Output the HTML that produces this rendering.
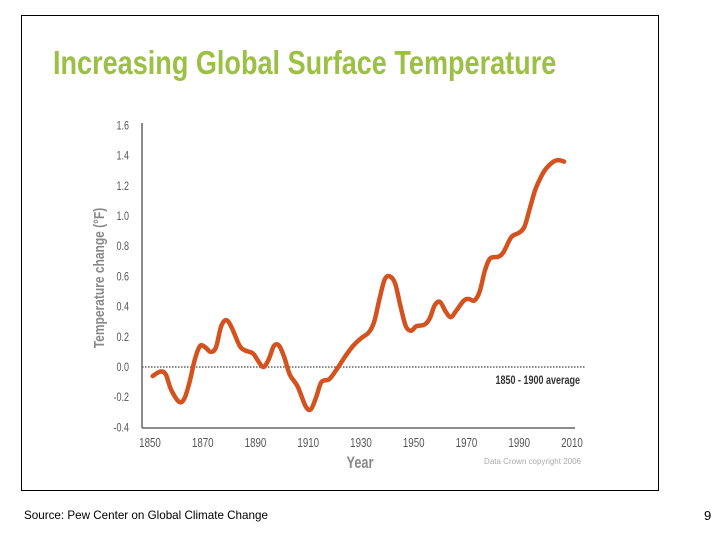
<!DOCTYPE html>
<html><head><meta charset="utf-8"><style>
body{margin:0;width:720px;height:540px;background:#fff;overflow:hidden;position:relative;font-family:"Liberation Sans",sans-serif}
#frame{position:absolute;left:21px;top:15px;width:638px;height:476px;border:1px solid #000;box-sizing:border-box}
#title{position:absolute;left:53px;top:44px;font-size:33px;font-weight:bold;color:#9bc043;white-space:nowrap;transform-origin:0 0;transform:scaleX(0.82)}
#src{position:absolute;left:24px;top:508px;font-size:12px;color:#000;transform-origin:0 0;transform:scaleX(0.97)}
#pg{position:absolute;left:704px;top:508px;font-size:13px}
svg{position:absolute;left:0;top:0}
</style></head><body>
<div id="frame"></div>
<div id="title">Increasing Global Surface Temperature</div>
<svg id="chart" width="720" height="540"></svg>
<div id="src">Source: Pew Center on Global Climate Change</div>
<div id="pg">9</div>
<script>
const years=[1851,1854,1856,1858,1861,1863,1865,1867,1869,1871,1873,1875,1877,1879,1881,1884,1886,1889,1891,1893,1895,1897,1899,1901,1903,1906,1909,1911,1913,1915,1918,1921,1924,1927,1930,1933,1935,1937,1939,1941,1943,1945,1947,1949,1951,1954,1956,1958,1960,1962,1964,1966,1969,1971,1973,1975,1977,1979,1982,1984,1987,1990,1992,1994,1996,1998,2000,2003,2005,2007];
const temps=[-0.06,-0.03,-0.05,-0.15,-0.23,-0.21,-0.1,0.05,0.14,0.13,0.1,0.13,0.27,0.31,0.26,0.14,0.11,0.09,0.04,0.0,0.05,0.14,0.14,0.06,-0.05,-0.13,-0.26,-0.28,-0.2,-0.1,-0.08,-0.01,0.07,0.14,0.19,0.23,0.3,0.45,0.58,0.6,0.55,0.4,0.27,0.24,0.27,0.28,0.32,0.41,0.43,0.37,0.33,0.37,0.44,0.45,0.44,0.5,0.64,0.72,0.73,0.76,0.86,0.89,0.93,1.05,1.17,1.25,1.31,1.36,1.37,1.36];
const yTicks=[-0.4,-0.2,0.0,0.2,0.4,0.6,0.8,1.0,1.2,1.4,1.6];
const xTicks=[1850,1870,1890,1910,1930,1950,1970,1990,2010];
const NS="http://www.w3.org/2000/svg";
const svg=document.getElementById('chart');
const X=y=>150+(y-1850)*(572-150)/160;
const Y=v=>367-v*151;
function mk(t,a,txt){const e=document.createElementNS(NS,t);for(const k in a)e.setAttribute(k,a[k]);if(txt!==undefined)e.textContent=txt;svg.appendChild(e);return e;}
let e;
e=mk('line',{x1:142,y1:123,x2:142,y2:428,stroke:'#666','stroke-width':1.5});


e=mk('line',{x1:142,y1:428,x2:575,y2:428,stroke:'#666','stroke-width':1.5});


yTicks.forEach(v=>{
 e=mk('text',{x:129/0.75,y:Y(v)+4,'text-anchor':'end','font-size':12,fill:'#555',transform:'scale(0.75,1)'},v.toFixed(1));
 
 
});
xTicks.forEach(v=>{
 e=mk('text',{x:X(v)/0.75,y:447,'text-anchor':'middle','font-size':13,fill:'#555',transform:'scale(0.75,1)'},v);
 
 
});
e=mk('line',{x1:142,y1:Y(0),x2:585,y2:Y(0),stroke:'#444','stroke-width':1.2,'stroke-dasharray':'1.5,1.5'});


e=mk('text',{x:580/0.75,y:384,'text-anchor':'end','font-size':12,'font-weight':'bold',fill:'#333',transform:'scale(0.75,1)'},'1850 - 1900 average');


e=mk('text',{x:360/0.75,y:468,'text-anchor':'middle','font-size':17,'font-weight':'bold',fill:'#888',transform:'scale(0.75,1)'},'Year');


e=mk('text',{x:0,y:0,'text-anchor':'middle','font-size':15,'font-weight':'bold',fill:'#888',transform:'translate(104,278) rotate(-90) scale(0.8,1)'},'Temperature change (°F)');


e=mk('text',{x:581,y:464,'text-anchor':'end','font-size':8,fill:'#aaa'},'Data Crown copyright 2006');


const pts=years.map((y,i)=>[X(y),Y(temps[i])]);
let d=`M${pts[0][0]},${pts[0][1]}`;
for(let i=0;i<pts.length-1;i++){const p0=pts[Math.max(0,i-1)],p1=pts[i],p2=pts[i+1],p3=pts[Math.min(pts.length-1,i+2)];
 d+=` C${p1[0]+(p2[0]-p0[0])/6},${p1[1]+(p2[1]-p0[1])/6} ${p2[0]-(p3[0]-p1[0])/6},${p2[1]-(p3[1]-p1[1])/6} ${p2[0]},${p2[1]}`;}
e=mk('path',{d:d,fill:'none',stroke:'#d4521e','stroke-width':4.5,'stroke-linecap':'round','stroke-linejoin':'round'});


</script>
</body></html>
